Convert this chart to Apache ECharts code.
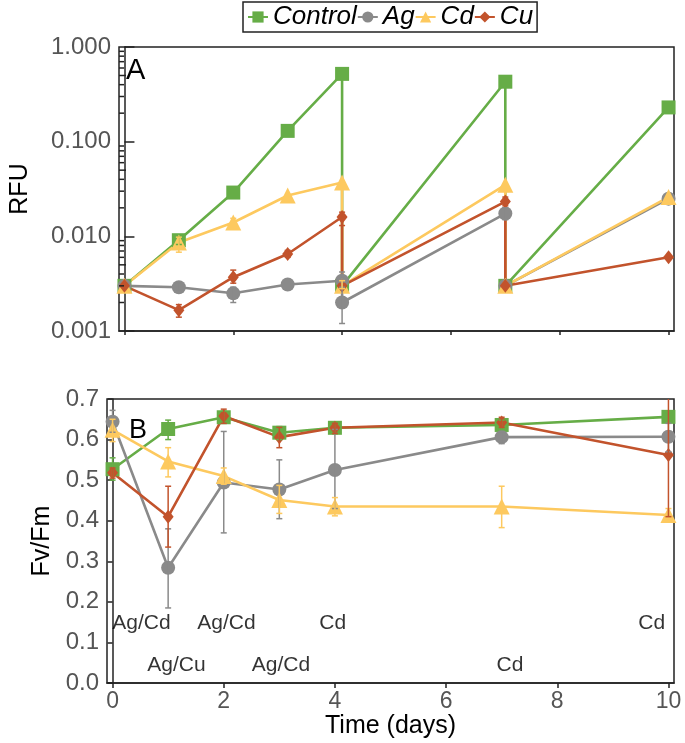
<!DOCTYPE html>
<html>
<head>
<meta charset="utf-8">
<script src="https://cdn.jsdelivr.net/npm/echarts@6/dist/echarts.min.js"></script>
<style>
html,body{margin:0;padding:0;background:#fff;}
#chart{width:685px;height:743px;}
</style>
</head>
<body>
<div id="chart"></div>
<script>
// ---------- Data ----------
const seriesNames = ['Control', 'Ag', 'Cd', 'Cu'];

// Panel A (RFU, log scale) – x positions (days), duplicates = re-inoculation drops
const xA = [0, 1, 2, 3, 4, 4, 7, 7, 10];
const controlA = [0.003, 0.0091, 0.029, 0.13, 0.52, 0.003, 0.43, 0.003, 0.23];
const agA      = [0.003, 0.0029, 0.0025, 0.0031, 0.0034, 0.0020, 0.0174, 0.003, 0.025];
const cdA      = [0.003, 0.0086, 0.014, 0.027, 0.037, 0.003, 0.035, 0.003, 0.026];
const cuA      = [0.003, 0.00166, 0.0037, 0.0065, 0.016, 0.003, 0.0233, 0.003, 0.006];

// Panel A error bars [x, low, high]
const controlErrA = [[1, 0.0082, 0.0098]];
const agErrA = [[1, 0.0026, 0.0032], [2, 0.0020, 0.0029], [4, 0.0012, 0.0033], [4, 0.0029, 0.0042], [7, 0.015, 0.020]];
const cdErrA = [[1, 0.0068, 0.0098], [2, 0.0125, 0.0155], [4, 0.0028, 0.0034]];
const cuErrA = [[1, 0.0014, 0.0019], [2, 0.0032, 0.0044], [3, 0.0060, 0.0071], [4, 0.013, 0.018], [7, 0.021, 0.026]];

// Panel B (Fv/Fm)
const xB = [0, 1, 2, 3, 4, 7, 10];
const controlB = [0.527, 0.626, 0.655, 0.617, 0.629, 0.636, 0.656];
const agB      = [0.644, 0.284, 0.494, 0.477, 0.525, 0.606, 0.607];
const cdB      = [0.624, 0.546, 0.510, 0.451, 0.435, 0.435, 0.414];
const cuB      = [0.518, 0.410, 0.658, 0.606, 0.629, 0.642, 0.562];

const controlErrB = [[0, 0.50, 0.555], [1, 0.60, 0.648], [2, 0.64, 0.67], [3, 0.60, 0.632], [4, 0.615, 0.64], [7, 0.625, 0.648], [10, 0.645, 0.665]];
const agErrB = [[0, 0.618, 0.672], [1, 0.185, 0.38], [2, 0.37, 0.62], [3, 0.405, 0.55], [4, 0.43, 0.625], [7, 0.59, 0.62], [10, 0.57, 0.64]];
const cdErrB = [[0, 0.595, 0.65], [1, 0.508, 0.58], [2, 0.49, 0.53], [3, 0.418, 0.487], [4, 0.412, 0.457], [7, 0.383, 0.485], [10, 0.40, 0.43]];
const cuErrB = [[0, 0.505, 0.53], [1, 0.335, 0.485], [2, 0.64, 0.675], [3, 0.58, 0.63], [4, 0.615, 0.64], [7, 0.63, 0.655], [10, 0.41, 0.75]];

// Annotations in panel B: [x, y, text]
const annotations = [
  [0.52, 0.148, 'Ag/Cd'], [1.15, 0.045, 'Ag/Cu'], [2.05, 0.148, 'Ag/Cd'],
  [3.03, 0.045, 'Ag/Cd'], [3.96, 0.148, 'Cd'], [7.15, 0.045, 'Cd'], [9.7, 0.148, 'Cd']
];

// Tick values
const xTicks = [0, 2, 4, 6, 8, 10];
const logMinorTicks = [0.002,0.003,0.004,0.005,0.006,0.007,0.008,0.009,
                       0.02,0.03,0.04,0.05,0.06,0.07,0.08,0.09,
                       0.2,0.3,0.4,0.5,0.6,0.7,0.8,0.9];

// ---------- Styling ----------
const FONT = '"Liberation Sans", Arial, Helvetica, sans-serif';
const colors = { Control: '#66ad47', Ag: '#8a8a8a', Cd: '#fdc95f', Cu: '#c2532c' };
const symbols = { Control: 'rect', Ag: 'circle', Cd: 'triangle', Cu: 'diamond' };
const symSizes = { Control: 14, Ag: 14, Cd: 16, Cu: [11, 14] };
const AXC = '#222';
const LABC = '#555';
const X_MIN = -0.1, X_MAX = 10.1;

const zip = (xs, ys) => xs.map((x, i) => [x, ys[i]]);

function lineSeries(name, xs, ys, axisIdx) {
  return {
    name, type: 'line', xAxisIndex: axisIdx, yAxisIndex: axisIdx,
    data: zip(xs, ys),
    symbol: symbols[name], symbolSize: symSizes[name],
    showSymbol: true,
    itemStyle: { color: colors[name] },
    lineStyle: { color: colors[name], width: 2.6 },
    z: 2, animation: false
  };
}

function errSeries(name, data, axisIdx) {
  const col = colors[name];
  return {
    type: 'custom', xAxisIndex: axisIdx, yAxisIndex: axisIdx,
    data, clip: true, silent: true, animation: false, z: 4,
    renderItem(params, api) {
      const x = api.value(0), lo = api.value(1), hi = api.value(2);
      const a = api.coord([x, lo]), b = api.coord([x, hi]);
      const w = 3;
      const st = { stroke: col, lineWidth: 1.5 };
      return { type: 'group', children: [
        { type: 'line', shape: { x1: a[0], y1: a[1], x2: b[0], y2: b[1] }, style: st },
        { type: 'line', shape: { x1: a[0] - w, y1: a[1], x2: a[0] + w, y2: a[1] }, style: st },
        { type: 'line', shape: { x1: b[0] - w, y1: b[1], x2: b[0] + w, y2: b[1] }, style: st }
      ]};
    }
  };
}

const series = [];
series.push(lineSeries('Control', xA, controlA, 0));
series.push(lineSeries('Ag', xA, agA, 0));
series.push(lineSeries('Cd', xA, cdA, 0));
series.push(lineSeries('Cu', xA, cuA, 0));
series.push(lineSeries('Control', xB, controlB, 1));
series.push(lineSeries('Ag', xB, agB, 1));
series.push(lineSeries('Cd', xB, cdB, 1));
series.push(lineSeries('Cu', xB, cuB, 1));
series.push(errSeries('Control', controlErrA, 0));
series.push(errSeries('Ag', agErrA, 0));
series.push(errSeries('Cd', cdErrA, 0));
series.push(errSeries('Cu', cuErrA, 0));
series.push(errSeries('Control', controlErrB, 1));
series.push(errSeries('Ag', agErrB, 1));
series.push(errSeries('Cd', cdErrB, 1));
series.push(errSeries('Cu', cuErrB, 1));

// Minor log ticks on panel A (inside)
series.push({
  type: 'custom', xAxisIndex: 0, yAxisIndex: 0, data: logMinorTicks.map(v => [X_MIN, v]),
  clip: false, silent: true, animation: false, z: 5,
  renderItem(params, api) {
    const v = api.value(1);
    const p = api.coord([X_MIN, v]);
    const len = Math.abs(v / Math.pow(10, Math.floor(Math.log10(v) + 1e-9)) - 5) < 1e-6 ? 7 : 5;
    return { type: 'line', shape: { x1: p[0], y1: p[1], x2: p[0] + len, y2: p[1] },
             style: { stroke: AXC, lineWidth: 1.5 } };
  }
});

// Annotations
series.push({
  type: 'scatter', xAxisIndex: 1, yAxisIndex: 1, silent: true, animation: false,
  symbolSize: 0,
  data: annotations.map(a => ({ value: [a[0], a[1]], name: a[2] })),
  label: { show: true, position: 'inside', formatter: '{b}', color: '#000',
           fontSize: 21, fontWeight: 'normal', textBorderWidth: 0, fontFamily: FONT },
  labelLayout: { hideOverlap: false },
  z: 6
});

const option = {
  backgroundColor: '#fff',
  animation: false,
  textStyle: { fontFamily: FONT },
  legend: {
    data: seriesNames,
    top: 2, left: 243,
    borderColor: '#222', borderWidth: 1.5,
    padding: [2, 4, 2, 4],
    itemGap: 0, itemWidth: 20, itemHeight: 14,
    textStyle: { fontSize: 26, fontStyle: 'italic', color: '#000', fontFamily: FONT },
    selectedMode: false
  },
  grid: [
    { left: 107, top: 47, right: 11, height: 284, show: true, borderColor: AXC, borderWidth: 1.5, containLabel: false },
    { left: 107, top: 399, right: 11, height: 284, show: true, borderColor: AXC, borderWidth: 1.5, containLabel: false }
  ],
  xAxis: [
    { type: 'value', gridIndex: 0, min: X_MIN, max: X_MAX,
      axisLine: { lineStyle: { color: AXC, width: 1.5 } },
      axisTick: { show: true, customValues: xTicks, length: 4, lineStyle: { color: AXC, width: 1.5 } },
      axisLabel: { show: false },
      splitLine: { show: false } },
    { type: 'value', gridIndex: 1, min: X_MIN, max: X_MAX,
      name: 'Time (days)', nameLocation: 'middle', nameGap: 28,
      nameTextStyle: { fontSize: 25, color: '#000', fontFamily: FONT },
      axisLine: { lineStyle: { color: AXC, width: 1.5 } },
      axisTick: { show: true, customValues: xTicks, length: 5, lineStyle: { color: AXC, width: 1.5 } },
      axisLabel: { show: true, customValues: xTicks, fontSize: 23, color: LABC, margin: 7, fontFamily: FONT },
      splitLine: { show: false } }
  ],
  yAxis: [
    { type: 'log', gridIndex: 0, logBase: 10, min: 0.001, max: 1,
      name: 'RFU', nameLocation: 'middle', nameGap: 86,
      nameTextStyle: { fontSize: 25, color: '#000', fontFamily: FONT },
      axisLine: { lineStyle: { color: AXC, width: 1.5 } },
      axisTick: { show: true, inside: true, length: 10, lineStyle: { color: AXC, width: 1.5 } },
      axisLabel: { fontSize: 24, color: LABC, margin: 8, fontFamily: FONT,
                   formatter: v => Number(v).toFixed(3) },
      splitLine: { show: false } },
    { type: 'value', gridIndex: 1, min: 0, max: 0.7, interval: 0.1,
      name: 'Fv/Fm', nameLocation: 'middle', nameGap: 48,
      nameTextStyle: { fontSize: 25, color: '#000', fontFamily: FONT },
      axisLine: { lineStyle: { color: AXC, width: 1.5 } },
      axisTick: { show: true, length: 5, lineStyle: { color: AXC, width: 1.5 } },
      axisLabel: { fontSize: 24, color: LABC, margin: 8, fontFamily: FONT,
                   formatter: v => Number(v).toFixed(1) },
      splitLine: { show: false } }
  ],
  graphic: [
    { type: 'text', left: 126, top: 56, style: { text: 'A', fontSize: 29, fill: '#000', fontFamily: FONT } },
    { type: 'text', left: 129, top: 417, style: { text: 'B', fontSize: 27, fill: '#000', fontFamily: FONT } }
  ],
  series
};

const chart = echarts.init(document.getElementById('chart'), null, { renderer: 'canvas' });
chart.setOption(option);
</script>
</body>
</html>
